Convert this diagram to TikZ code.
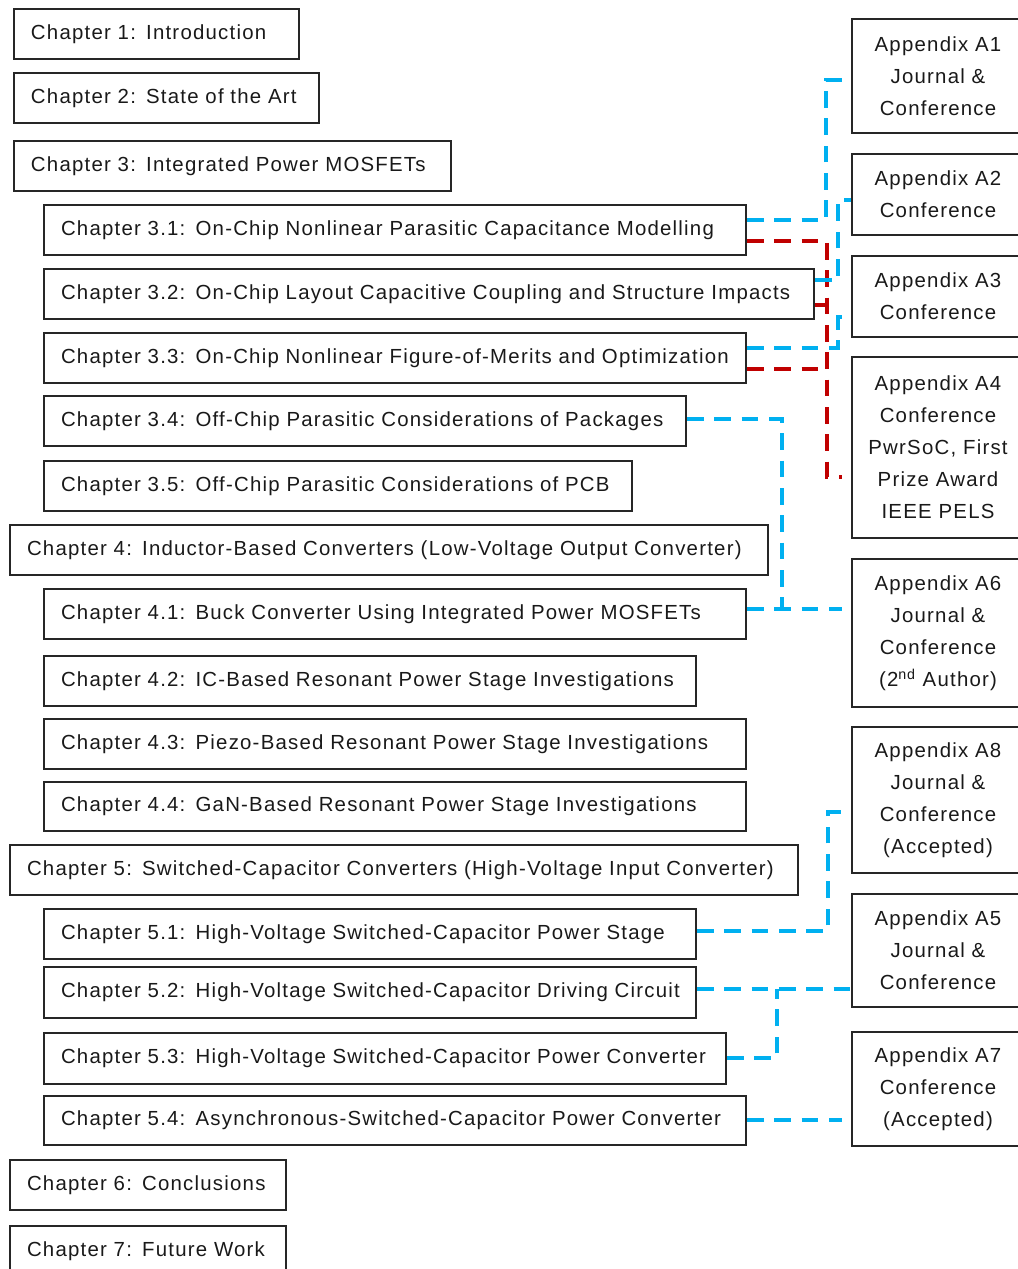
\documentclass[tikz,border=0pt]{standalone}
\usepackage{fontspec}
\setmainfont{Liberation Sans}[LetterSpace=6.0]
\definecolor{lineblue}{HTML}{00B0F0}
\definecolor{linered}{HTML}{C00000}
\definecolor{boxgray}{HTML}{262626}
\newcommand\fs{\fontsize{15.3pt}{24pt}\selectfont}
\newcommand\chapnode[6]{%
 \pgfmathsetmacro\tw{(#4-#2-34)*0.75}%
 \pgfmathsetmacro\bw{(#4-#2)*0.75}%
 \pgfmathsetmacro\bh{(#5-#3)*0.75}%
 \node[cbox, text width=\tw pt, minimum width=\bw pt, minimum height=\bh pt] (#1) at (#2,#3) {#6};}
\newcommand\appnode[4]{%
 \pgfmathsetmacro\bh{(#3-#2)*0.75}%
 \node[abox, minimum height=\bh pt] (#1) at (851,#2) {#4};}
\begin{document}
\begin{tikzpicture}[x=0.75pt,y=-0.75pt,
 cbox/.style={draw=boxgray, line width=1.5pt, inner xsep=12.75pt, inner ysep=0pt, align=left, anchor=north west, font=\fs, text=black!90},
 abox/.style={draw=boxgray, line width=1.5pt, inner sep=0pt, align=center, anchor=north west, minimum width=129pt, font=\fs, text=black!90},
 bl/.style={draw=lineblue, line width=2.5pt, dash pattern=on 12.5pt off 8pt},
 rd/.style={draw=linered, line width=2.5pt, dash pattern=on 12.5pt off 8pt},
 short/.style={shorten >=6.75pt}]
\useasboundingbox (0,0) rectangle (1017,1269);
% chapters
\chapnode{c1}{13}{8}{298}{58}{Chapter 1: Introduction}
\chapnode{c2}{13}{72}{318}{122}{Chapter 2: State of the Art}
\chapnode{c3}{13}{140}{450}{190}{Chapter 3: Integrated Power MOSFETs}
\chapnode{c31}{43}{204}{745}{254}{Chapter 3.1: On-Chip Nonlinear Parasitic Capacitance Modelling}
\chapnode{c32}{43}{268}{813}{318}{Chapter 3.2: On-Chip Layout Capacitive Coupling and Structure Impacts}
\chapnode{c33}{43}{332}{745}{382}{Chapter 3.3: On-Chip Nonlinear Figure-of-Merits and Optimization}
\chapnode{c34}{43}{395}{685}{445}{Chapter 3.4: Off-Chip Parasitic Considerations of Packages}
\chapnode{c35}{43}{460}{631}{510}{Chapter 3.5: Off-Chip Parasitic Considerations of PCB}
\chapnode{c4}{9}{524}{767}{574}{Chapter 4: Inductor-Based Converters (Low-Voltage Output Converter)}
\chapnode{c41}{43}{588}{745}{638}{Chapter 4.1: Buck Converter Using Integrated Power MOSFETs}
\chapnode{c42}{43}{655}{695}{705}{Chapter 4.2: IC-Based Resonant Power Stage Investigations}
\chapnode{c43}{43}{718}{745}{768}{Chapter 4.3: Piezo-Based Resonant Power Stage Investigations}
\chapnode{c44}{43}{781}{745}{830}{Chapter 4.4: GaN-Based Resonant Power Stage Investigations}
\chapnode{c5}{9}{844}{797}{894}{Chapter 5: Switched-Capacitor Converters (High-Voltage Input Converter)}
\chapnode{c51}{43}{908}{695}{958}{Chapter 5.1: High-Voltage Switched-Capacitor Power Stage}
\chapnode{c52}{43}{966}{695}{1017}{Chapter 5.2: High-Voltage Switched-Capacitor Driving Circuit}
\chapnode{c53}{43}{1032}{725}{1083}{Chapter 5.3: High-Voltage Switched-Capacitor Power Converter}
\chapnode{c54}{43}{1095}{745}{1144}{Chapter 5.4: Asynchronous-Switched-Capacitor Power Converter}
\chapnode{c6}{9}{1159}{285}{1209}{Chapter 6: Conclusions}
\chapnode{c7}{9}{1225}{285}{1275}{Chapter 7: Future Work}
% appendices
\appnode{a1}{18}{132}{Appendix A1\\Journal \&\\Conference}
\appnode{a2}{153}{234}{Appendix A2\\Conference}
\appnode{a3}{255}{336}{Appendix A3\\Conference}
\appnode{a4}{356}{537}{Appendix A4\\Conference\\PwrSoC, First\\Prize Award\\IEEE PELS}
\appnode{a6}{558}{706}{Appendix A6\\Journal \&\\Conference\\(2\textsuperscript{nd} Author)}
\appnode{a8}{726}{872}{Appendix A8\\Journal \&\\Conference\\(Accepted)}
\appnode{a5}{893}{1006}{Appendix A5\\Journal \&\\Conference}
\appnode{a7}{1031}{1145}{Appendix A7\\Conference\\(Accepted)}
% red connectors
\draw[rd, short] (c31.east |- 0,241) -- (827,241) -- (827,477) -- (a4.west |- 0,477);
\draw[rd] (c32.east |- 0,305) -- (827,305);
\draw[rd] (c33.east |- 0,369) -- (827,369);
% blue connectors
\draw[bl, short] (c31.east |- 0,220) -- (826,220) -- (826,80) -- (a1.west |- 0,80);
\draw[bl] (c32.east |- 0,280) -- (838,280) -- (838,200) -- (a2.west |- 0,200);
\draw[bl] (c33.east |- 0,348) -- (838,348) -- (838,317) -- (a3.west |- 0,317);
\draw[bl] (c34.east |- 0,419) -- (782,419) -- (782,609);
\draw[bl, short] (c41.east |- 0,609) -- (a6.west |- 0,609);
\draw[bl, short] (c51.east |- 0,931) -- (828,931) -- (828,812) -- (a8.west |- 0,812);
\draw[bl] (c52.east |- 0,989) -- (a5.west |- 0,989);
\draw[bl] (c53.east |- 0,1058) -- (777,1058) -- (777,989);
\draw[bl, short] (c54.east |- 0,1120) -- (a7.west |- 0,1120);
\end{tikzpicture}
\end{document}
